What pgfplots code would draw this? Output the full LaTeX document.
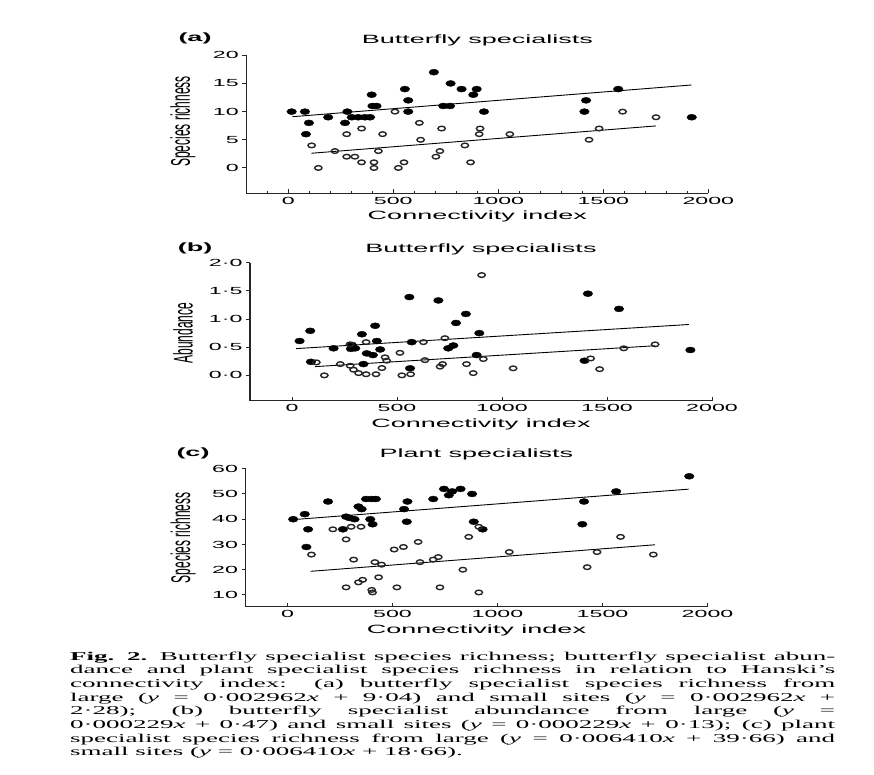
\documentclass[border=0pt]{standalone}
\usepackage{fontspec}
\setmainfont{Liberation Serif}[FakeStretch=2.25]
\newfontfamily\cf{Liberation Sans}[FakeStretch=2.25]
\newfontfamily\yf{Liberation Sans}[FakeStretch=0.444]
\usepackage{pgfplots}
\pgfplotsset{compat=1.18}
\pgfplotsset{
 panel/.style={
   scale only axis, width=462pt, height=138pt,
   axis lines=left, axis line style={-, line width=1.2pt, color=black!85},
   xmin=-200, xmax=2000, xtick={0,500,...,2000},
   enlargelimits=false, clip=false,
   xtick align=inside, ytick align=outside,
   major tick length=4pt, minor tick length=2.5pt,
   tick style={line width=1pt, black!85},
   /pgf/number format/assume math mode=true,
   /pgf/number format/1000 sep={},
   ticklabel style={font=\cf\fontsize{10.3}{12}\selectfont},
   xlabel={Connectivity index},
   xlabel style={font=\cf\fontsize{12}{14}\selectfont},
   ylabel style={font=\yf\fontsize{27}{27}\selectfont},
   title style={font=\cf\fontsize{12}{14}\selectfont, yshift=-8pt},
 },
 large/.style={only marks, mark=*, mark size=3pt, black, mark options={xscale=1.6}},
 small/.style={only marks, mark=o, mark size=2.3pt, black!85, mark options={xscale=1.6, line width=1.4pt, fill=white}},
 fit/.style={no marks, black, line width=0.9pt},
}
\begin{document}
\begin{tikzpicture}
\path[use as bounding box] (0,0) rectangle (874pt,-775pt);
% ---------------- (a)
\begin{axis}[panel, at={(246.3pt,-193.3pt)}, anchor=south west,
  ymin=-4.5, ymax=20, ytick={0,5,10,15,20},
  minor xtick={-100,0,...,2000},
  ylabel={Species richness}, ylabel style={at={(axis description cs:-0.137,0.52)}, anchor=center},
  title={Butterfly specialists}, title style={at={(axis description cs:0.5,1.123)}, anchor=center}]
\addplot[fit] coordinates {(20,9.10) (1920,14.73)};
\addplot[fit] coordinates {(110,2.61) (1750,7.46)};
\addplot[large] coordinates {
(16,10) (79,10) (98,8) (84,6) (190,9) (270,8) (281,10) (302,9) (333,9) (365,9)
(389,9) (397,13) (401,11) (420,11) (555,14) (571,12) (571,10) (693,17) (738,11)
(770,11) (773,15) (825,14) (897,14) (881,13) (932,10) (1571,14) (1418,12) (1410,10) (1921,9)};
\addplot[small] coordinates {
(111,4) (143,0) (222,3) (278,6) (278,2) (317,2) (349,1) (349,7) (408,1) (408,0)
(429,3) (449,6) (508,10) (524,0) (551,1) (624,8) (630,5) (703,2) (722,3) (730,7)
(841,4) (868,1) (913,7) (909,6) (1055,6) (1592,10) (1751,9) (1480,7) (1432,5)};
\end{axis}
% ---------------- (b)
\begin{axis}[panel, at={(250pt,-400.7pt)}, anchor=south west,
  ymin=-0.45, ymax=2.0, ytick={0,0.5,1,1.5,2},
  yticklabels={0{\textperiodcentered}0,0{\textperiodcentered}5,1{\textperiodcentered}0,1{\textperiodcentered}5,2{\textperiodcentered}0},
  ylabel={Abundance}, ylabel style={at={(axis description cs:-0.145,0.49)}, anchor=center},
  title={Butterfly specialists}, title style={at={(axis description cs:0.5,1.111)}, anchor=center}]
\addplot[fit] coordinates {(20,0.475) (1890,0.903)};
\addplot[fit] coordinates {(110,0.155) (1730,0.526)};
\addplot[large] coordinates {
(36,0.61) (87,0.79) (90,0.24) (198,0.48) (280,0.47) (285,0.54) (301,0.48) (333,0.73)
(396,0.88) (404,0.61) (420,0.46) (356,0.39) (385,0.36) (340,0.20) (559,1.39) (697,1.33)
(570,0.59) (562,0.125) (744,0.48) (768,0.53) (781,0.93) (828,1.09) (892,0.75) (879,0.36)
(1409,1.45) (1557,1.18) (1897,0.45) (1393,0.26)};
\addplot[small] coordinates {
(903,1.78) (116,0.23) (154,0.0) (230,0.20) (277,0.17) (293,0.10) (317,0.04) (353,0.02)
(400,0.02) (428,0.13) (353,0.59) (276,0.55) (443,0.32) (451,0.26) (514,0.40) (523,0.0)
(565,0.02) (626,0.59) (633,0.27) (728,0.66) (717,0.20) (705,0.155) (831,0.20) (863,0.04)
(911,0.29) (1053,0.125) (1580,0.48) (1729,0.55) (1422,0.30) (1465,0.11)};
\end{axis}
% ---------------- (c)
\begin{axis}[panel, at={(245.5pt,-606.7pt)}, anchor=south west,
  ymin=5.35, ymax=60, ytick={10,20,...,60},
  ylabel={Species richness}, ylabel style={at={(axis description cs:-0.135,0.5)}, anchor=center},
  title={Plant specialists}, title style={at={(axis description cs:0.5,1.118)}, anchor=center}]
\addplot[fit] coordinates {(20,39.79) (1910,51.90)};
\addplot[fit] coordinates {(110,19.36) (1750,29.88)};
\addplot[large] coordinates {
(27,40) (82,42) (98,36) (90,29) (193,47) (264,36) (279,41) (295,40.5) (319,40) (338,45)
(353,44) (374,48) (400,48) (421,48) (394,40) (405,38) (555,44) (571,47) (568,39) (694,48)
(745,52) (768,49.5) (784,51) (824,52) (879,50) (887,39) (929,36) (1913,57) (1565,51)
(1412,47) (1404,38)};
\addplot[small] coordinates {
(114,26) (216,36) (279,32) (303,37) (315,24) (350,37) (416,23) (448,22) (434,17) (338,15)
(358,16) (401,12) (405,11) (279,13) (508,28) (552,29) (622,31) (521,13) (631,23) (694,24)
(718,25) (726,13) (835,20) (863,33) (911,11) (911,37) (1056,27) (1586,33) (1474,27)
(1427,21) (1742,26)};
\end{axis}
% panel letters
\node[font=\cf\bfseries\fontsize{12}{14}\selectfont] at (195pt,-38pt) {(a)};
\node[font=\cf\bfseries\fontsize{12}{14}\selectfont] at (195pt,-248pt) {(b)};
\node[font=\cf\bfseries\fontsize{12}{14}\selectfont] at (193pt,-453pt) {(c)};
% caption
\node[anchor=base west, inner sep=0pt] at (70pt,-660pt) {\parbox[t]{765pt}{\fontsize{12}{13.7}\selectfont
\makebox[765pt][s]{\textbf{Fig. 2.} Butterfly specialist species richness; butterfly specialist abun-}\\
\makebox[765pt][s]{dance and plant specialist species richness in relation to Hanski's}\\
\makebox[765pt][s]{connectivity index: (a) butterfly specialist species richness from}\\
\makebox[765pt][s]{large (\textit{y} = 0·002962\textit{x} + 9·04) and small sites (\textit{y} = 0·002962\textit{x} +}\\
\makebox[765pt][s]{2·28); (b) butterfly specialist abundance from large (\textit{y} =}\\
\makebox[765pt][s]{0·000229\textit{x} + 0·47) and small sites (\textit{y} = 0·000229\textit{x} + 0·13); (c) plant}\\
\makebox[765pt][s]{specialist species richness from large (\textit{y} = 0·006410\textit{x} + 39·66) and}\\
small sites (\textit{y} = 0·006410\textit{x} + 18·66).}};
\end{tikzpicture}
\end{document}
